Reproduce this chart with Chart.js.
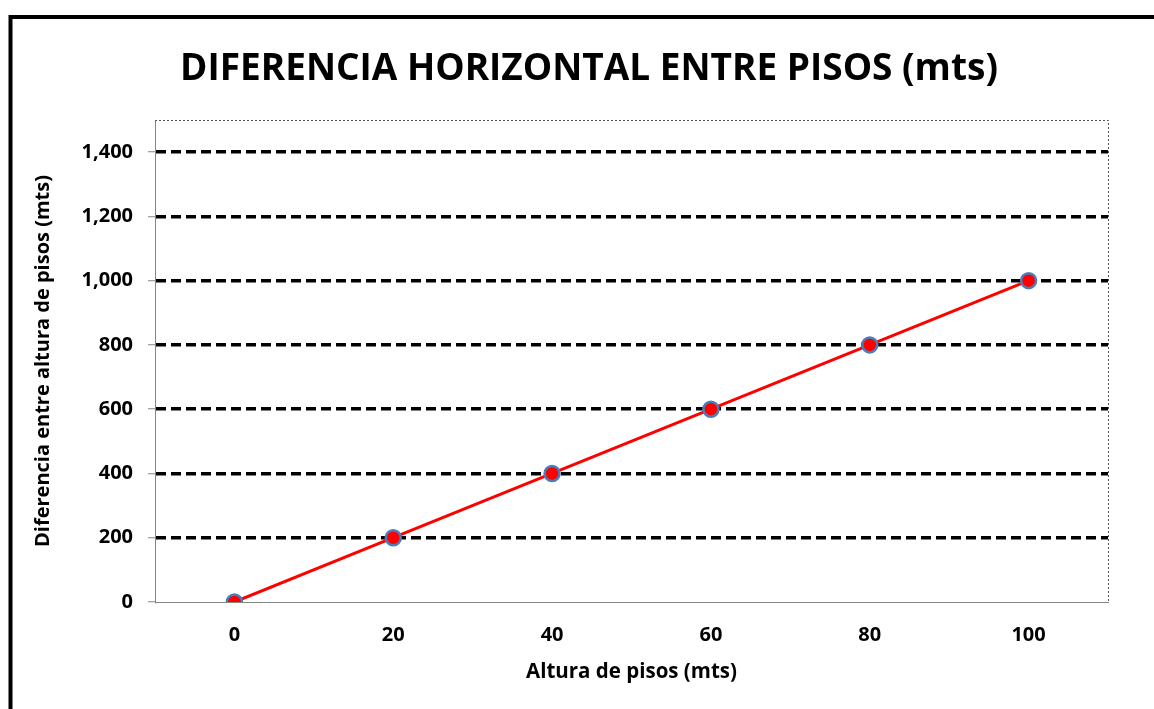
<!DOCTYPE html>
<html>
<head>
<meta charset="utf-8">
<script src="https://cdn.jsdelivr.net/npm/chart.js@4/dist/chart.umd.min.js"></script>
<style>
html,body{margin:0;padding:0;background:#fff;overflow:hidden}
#wrap{width:1154px;height:709px;position:relative}
canvas{display:block}
</style>
</head>
<body>
<div id="wrap"><canvas id="c" width="1154" height="709"></canvas></div>
<script>
const categories = ['0', '20', '40', '60', '80', '100'];
const values = [0, 200, 400, 600, 800, 1000];
const yTicks = [0, 200, 400, 600, 800, 1000, 1200, 1400];
const yMin = 0;
const yMax = 1500;
const titleText = 'DIFERENCIA HORIZONTAL ENTRE PISOS (mts)';
const xTitle = 'Altura de pisos (mts)';
const yTitle = 'Diferencia entre altura de pisos (mts)';

const FONT = '"Open Sans", "Liberation Sans", sans-serif';

const framePlugin = {
  id: 'frame',
  beforeDraw(chart) {
    const ctx = chart.ctx;
    ctx.save();
    ctx.fillStyle = '#fff';
    ctx.fillRect(0, 0, chart.width, chart.height);
    ctx.strokeStyle = '#000';
    ctx.lineWidth = 4;
    ctx.strokeRect(10.5, 17, 1400, 1000);
    ctx.fillStyle = '#000';
    ctx.font = 'bold 37px ' + FONT;
    ctx.textAlign = 'center';
    ctx.textBaseline = 'alphabetic';
    ctx.fillText(titleText, 589, 80);
    ctx.restore();
  },
  beforeDatasetsDraw(chart) {
    const a = chart.chartArea;
    const ctx = chart.ctx;
    ctx.save();
    ctx.strokeStyle = '#555';
    ctx.lineWidth = 1;
    ctx.setLineDash([2, 2]);
    ctx.beginPath();
    ctx.moveTo(a.left, a.top + 0.5);
    ctx.lineTo(a.right + 0.5, a.top + 0.5);
    ctx.lineTo(a.right + 0.5, a.bottom);
    ctx.stroke();
    ctx.restore();
  }
};

new Chart(document.getElementById('c'), {
  type: 'line',
  data: {
    labels: categories,
    datasets: [{
      data: values,
      borderColor: '#ff0000',
      borderWidth: 3,
      backgroundColor: '#ff0000',
      pointBackgroundColor: '#ff0000',
      pointBorderColor: '#4a7ebb',
      pointBorderWidth: 2.5,
      pointRadius: 7.5,
      tension: 0,
      fill: false
    }]
  },
  options: {
    responsive: false,
    animation: false,
    devicePixelRatio: 1,
    layout: { padding: { top: 120, right: 46, left: 0, bottom: 0 } },
    plugins: {
      legend: { display: false },
      tooltip: { enabled: false },
      title: { display: false }
    },
    scales: {
      x: {
        type: 'category',
        offset: true,
        afterFit: s => { s.height = 107; },
        grid: { display: false, drawTicks: false },
        border: { display: true, color: '#868686', width: 1 },
        ticks: { color: '#000', font: { family: FONT, size: 20, weight: 'bold' }, padding: 21 },
        title: { display: true, text: xTitle, color: '#000', font: { family: FONT, size: 20.5, weight: 'bold' }, padding: { top: 0, bottom: 25 } }
      },
      y: {
        min: yMin,
        max: yMax,
        afterBuildTicks: s => { s.ticks = yTicks.map(v => ({ value: v })); },
        afterFit: s => { s.width = 155; },
        grid: {
          color: c => (c.tick && c.tick.value === 0) ? 'rgba(0,0,0,0)' : '#000',
          lineWidth: 3.5,
          drawTicks: true,
          tickLength: 7,
          tickColor: '#868686',
          tickWidth: 1
        },
        border: { display: true, color: '#868686', width: 1, dash: [10, 5] },
        ticks: {
          color: '#000',
          font: { family: FONT, size: 20, weight: 'bold' },
          padding: 15,
          callback: v => Number(v).toLocaleString('en-US')
        },
        title: { display: true, text: yTitle, color: '#000', font: { family: FONT, size: 20, weight: 'bold' }, padding: { top: 31, bottom: 0 } }
      }
    }
  },
  plugins: [framePlugin]
});
</script>
</body>
</html>
